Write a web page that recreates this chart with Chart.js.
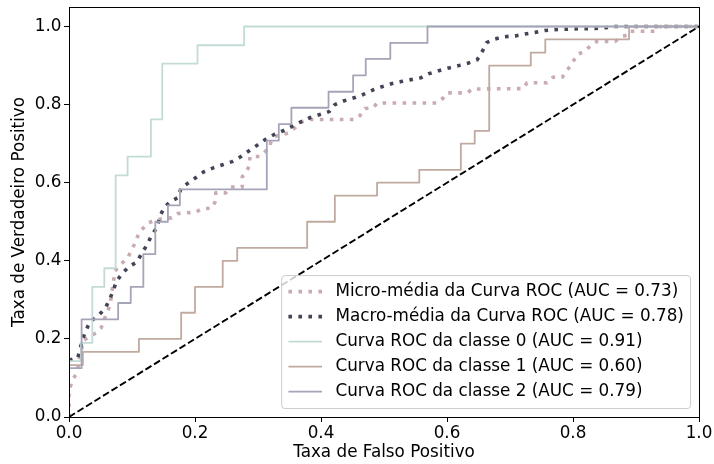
<!DOCTYPE html>
<html>
<head>
<meta charset="utf-8">
<script src="https://cdn.jsdelivr.net/npm/chart.js@4.4.1/dist/chart.umd.min.js"></script>
<style>
  html, body { margin: 0; padding: 0; background: #fff; overflow: hidden; }
  #wrap { width: 714px; height: 464px; }
</style>
</head>
<body>
<div id="wrap"><canvas id="roc" width="714" height="464"></canvas></div>
<script>
// ROC curves: micro/macro averages and per-class curves
const microFpr = [0, 0, 0.002, 0.006, 0.013, 0.017, 0.024, 0.033, 0.043, 0.051, 0.060, 0.065, 0.073, 0.083, 0.094,
  0.105, 0.110, 0.117, 0.125, 0.140, 0.149, 0.163, 0.173, 0.187, 0.200, 0.211, 0.227, 0.233, 0.233, 0.249,
  0.257, 0.275, 0.275, 0.281, 0.287, 0.287, 0.303, 0.311, 0.319, 0.321, 0.327, 0.335, 0.348, 0.359, 0.367,
  0.375, 0.383, 0.454, 0.462, 0.470, 0.483, 0.489, 0.584, 0.594, 0.600, 0.632, 0.640, 0.721, 0.727, 0.759,
  0.768, 0.783, 0.790, 0.798, 0.806, 0.819, 0.830, 0.838, 0.867, 0.875, 0.886, 0.890, 0.933, 0.938, 1.0];
const microTpr = [0, 0.069, 0.077, 0.097, 0.113, 0.159, 0.197, 0.208, 0.215, 0.228, 0.267, 0.285, 0.374, 0.392, 0.410,
  0.446, 0.467, 0.482, 0.497, 0.505, 0.508, 0.510, 0.521, 0.523, 0.524, 0.533, 0.535, 0.554, 0.574, 0.574,
  0.589, 0.589, 0.615, 0.628, 0.644, 0.667, 0.667, 0.679, 0.692, 0.710, 0.718, 0.723, 0.727, 0.741, 0.754,
  0.759, 0.762, 0.762, 0.772, 0.790, 0.792, 0.804, 0.804, 0.817, 0.830, 0.830, 0.840, 0.841, 0.856, 0.856,
  0.870, 0.870, 0.887, 0.903, 0.928, 0.937, 0.954, 0.962, 0.962, 0.973, 0.978, 0.988, 0.988, 1.0, 1.0];

const macroFpr = [0, 0.014, 0.017, 0.024, 0.033, 0.046, 0.057, 0.065, 0.070, 0.075, 0.084, 0.095, 0.108, 0.116, 0.124,
  0.130, 0.140, 0.144, 0.151, 0.160, 0.173, 0.178, 0.190, 0.203, 0.214, 0.229, 0.244, 0.259, 0.273, 0.286,
  0.298, 0.311, 0.325, 0.340, 0.354, 0.368, 0.383, 0.397, 0.413, 0.422, 0.437, 0.454, 0.467, 0.483, 0.497,
  0.513, 0.527, 0.543, 0.559, 0.571, 0.587, 0.603, 0.619, 0.633, 0.648, 0.656, 0.663, 0.676, 0.692, 0.708,
  0.724, 0.740, 0.756, 0.771, 0.803, 0.835, 0.851, 0.867, 1.0];
const macroTpr = [0.146, 0.151, 0.172, 0.210, 0.244, 0.259, 0.277, 0.303, 0.323, 0.346, 0.367, 0.385, 0.397, 0.421, 0.441,
  0.462, 0.487, 0.513, 0.536, 0.551, 0.562, 0.587, 0.600, 0.615, 0.628, 0.638, 0.646, 0.654, 0.667, 0.682,
  0.695, 0.710, 0.723, 0.733, 0.744, 0.756, 0.767, 0.774, 0.782, 0.800, 0.810, 0.818, 0.826, 0.838, 0.846,
  0.854, 0.859, 0.864, 0.869, 0.879, 0.887, 0.894, 0.900, 0.906, 0.915, 0.936, 0.959, 0.968, 0.974, 0.976,
  0.981, 0.985, 0.990, 0.992, 0.994, 0.995, 0.997, 1.0, 1.0];

// per-class curve corners (steps drawn horizontally first, then vertically)
const fpr0 = [0, 0, 0.019, 0.037, 0.056, 0.074, 0.093, 0.130, 0.148, 0.204, 0.278, 1];
const tpr0 = [0, 0.143, 0.190, 0.333, 0.381, 0.619, 0.667, 0.762, 0.905, 0.952, 1, 1];
const fpr1 = [0, 0, 0.022, 0.111, 0.178, 0.2, 0.244, 0.267, 0.378, 0.422, 0.489, 0.556, 0.622, 0.644, 0.667, 0.733, 0.756, 0.889, 1];
const tpr1 = [0, 0.133, 0.167, 0.2, 0.267, 0.333, 0.4, 0.433, 0.5, 0.567, 0.6, 0.633, 0.7, 0.733, 0.9, 0.933, 0.967, 1, 1];
const fpr2 = [0, 0, 0.020, 0.078, 0.098, 0.118, 0.137, 0.157, 0.176, 0.314, 0.333, 0.353, 0.412, 0.451, 0.471, 0.510, 0.569, 1];
const tpr2 = [0, 0.125, 0.25, 0.292, 0.333, 0.417, 0.5, 0.542, 0.583, 0.708, 0.75, 0.792, 0.833, 0.875, 0.917, 0.958, 1, 1];

const chanceFpr = [0, 1];
const chanceTpr = [0, 1];

const aucScores = [0.73, 0.78, 0.91, 0.60, 0.79];
const seriesNames = ['Micro-média da Curva ROC', 'Macro-média da Curva ROC',
  'Curva ROC da classe 0', 'Curva ROC da classe 1', 'Curva ROC da classe 2'];

const xTicks = [0, 0.2, 0.4, 0.6, 0.8, 1.0];
const yTicks = [0, 0.2, 0.4, 0.6, 0.8, 1.0];

const FONT = { family: '"DejaVu Sans", sans-serif', size: 16.8 };

const toPoints = (xs, ys) => xs.map((x, i) => ({ x, y: ys[i] }));
const label = i => `${seriesNames[i]} (AUC = ${aucScores[i].toFixed(2)})`;

const DOT = [3.6, 6.4];

const datasets = [
  { label: label(0), data: toPoints(microFpr, microTpr), borderColor: '#c9abb3', borderWidth: 3.6, borderDash: DOT, order: 6 },
  { label: label(1), data: toPoints(macroFpr, macroTpr), borderColor: '#444457', borderWidth: 3.6, borderDash: DOT, order: 5 },
  { label: label(2), data: toPoints(fpr0, tpr0), borderColor: '#c3dbd7', borderWidth: 1.8, stepped: 'before', order: 4 },
  { label: label(3), data: toPoints(fpr1, tpr1), borderColor: '#c0aaa0', borderWidth: 1.8, stepped: 'before', order: 3 },
  { label: label(4), data: toPoints(fpr2, tpr2), borderColor: '#a5a4b8', borderWidth: 1.8, stepped: 'before', order: 2 },
  { label: '', data: toPoints(chanceFpr, chanceTpr), borderColor: '#000000', borderWidth: 1.9, borderDash: [7, 3], order: 1 }
].map(d => Object.assign({ showLine: true, pointRadius: 0, fill: false, tension: 0, borderJoinStyle: 'round' }, d));

// white page, axes frame and boxed legend
const canvasBg = {
  id: 'canvasBg',
  beforeDraw(chart) {
    const ctx = chart.ctx;
    ctx.save();
    ctx.fillStyle = '#ffffff';
    ctx.fillRect(0, 0, chart.width, chart.height);
    ctx.restore();
  }
};

const axesFrame = {
  id: 'axesFrame',
  afterDatasetsDraw(chart) {
    const { left, top, right, bottom } = chart.chartArea;
    const ctx = chart.ctx;
    ctx.save();
    ctx.strokeStyle = '#000';
    ctx.lineWidth = 1;
    ctx.strokeRect(Math.round(left) + 0.5, Math.round(top) + 0.5, Math.round(right - left), Math.round(bottom - top));
    ctx.restore();
  }
};

const boxLegend = {
  id: 'boxLegend',
  afterDraw(chart) {
    const ctx = chart.ctx;
    const area = chart.chartArea;
    const fs = FONT.size;
    const items = chart.data.datasets.filter(d => d.label);
    const pad = 0.4 * fs, handleLen = 2 * fs, textGap = 0.8 * fs, pitch = 25;
    ctx.save();
    ctx.font = `${fs}px ${FONT.family}`;
    const textW = Math.max(...items.map(d => ctx.measureText(d.label).width));
    const right = area.right - 8.4;
    const bottom = area.bottom - 8.4;
    const w = pad + handleLen + textGap + textW + pad;
    const h = 133;
    const left = right - w, top = bottom - h;

    // frame
    const r = 0.2 * fs;
    ctx.beginPath();
    ctx.moveTo(left + r, top);
    ctx.arcTo(right, top, right, bottom, r);
    ctx.arcTo(right, bottom, left, bottom, r);
    ctx.arcTo(left, bottom, left, top, r);
    ctx.arcTo(left, top, right, top, r);
    ctx.closePath();
    ctx.fillStyle = 'rgba(255,255,255,0.8)';
    ctx.fill();
    ctx.strokeStyle = '#cccccc';
    ctx.lineWidth = 1;
    ctx.stroke();

    items.forEach((d, i) => {
      const cy = top + 16 + i * pitch;
      const hx = left + pad;
      ctx.beginPath();
      ctx.setLineDash(d.borderDash || []);
      ctx.lineDashOffset = 0;
      ctx.lineCap = 'butt';
      ctx.strokeStyle = d.borderColor;
      ctx.lineWidth = d.borderWidth;
      ctx.moveTo(hx, cy);
      ctx.lineTo(hx + handleLen, cy);
      ctx.stroke();
      ctx.setLineDash([]);
      ctx.fillStyle = '#000';
      ctx.textBaseline = 'middle';
      ctx.textAlign = 'left';
      ctx.fillText(d.label, hx + handleLen + textGap, cy);
    });
    ctx.restore();
  }
};

const tickGrid = { display: true, drawOnChartArea: false, drawTicks: true, tickLength: 5, color: '#000', lineWidth: 1 };

new Chart(document.getElementById('roc'), {
  type: 'scatter',
  data: { datasets },
  options: {
    responsive: false,
    animation: false,
    devicePixelRatio: 1,
    layout: { padding: { top: 7, right: 15, left: 0, bottom: 0 } },
    plugins: { legend: { display: false }, tooltip: { enabled: false } },
    scales: {
      x: {
        type: 'linear', position: 'bottom', min: 0, max: 1,
        afterBuildTicks: s => { s.ticks = xTicks.map(v => ({ value: v })); },
        afterFit: s => { s.height = 47; s.paddingLeft = 0; s.paddingRight = 0; },
        ticks: { font: FONT, color: '#000', padding: 2, maxRotation: 0, autoSkip: false, callback: v => v.toFixed(1) },
        grid: tickGrid,
        border: { display: false },
        title: { display: true, text: 'Taxa de Falso Positivo', font: FONT, color: '#000', padding: { top: 0, bottom: 1 } }
      },
      y: {
        type: 'linear', position: 'left', min: 0, max: 1.05,
        afterBuildTicks: s => { s.ticks = yTicks.map(v => ({ value: v })); },
        afterFit: s => { s.width = 69; s.paddingTop = 0; s.paddingBottom = 0; },
        ticks: { font: FONT, color: '#000', padding: 2.5, autoSkip: false, callback: v => v.toFixed(1) },
        grid: tickGrid,
        border: { display: false },
        title: { display: true, text: 'Taxa de Verdadeiro Positivo', font: FONT, color: '#000', padding: { top: 10, bottom: 0 } }
      }
    }
  },
  plugins: [canvasBg, axesFrame, boxLegend]
});
</script>
</body>
</html>
